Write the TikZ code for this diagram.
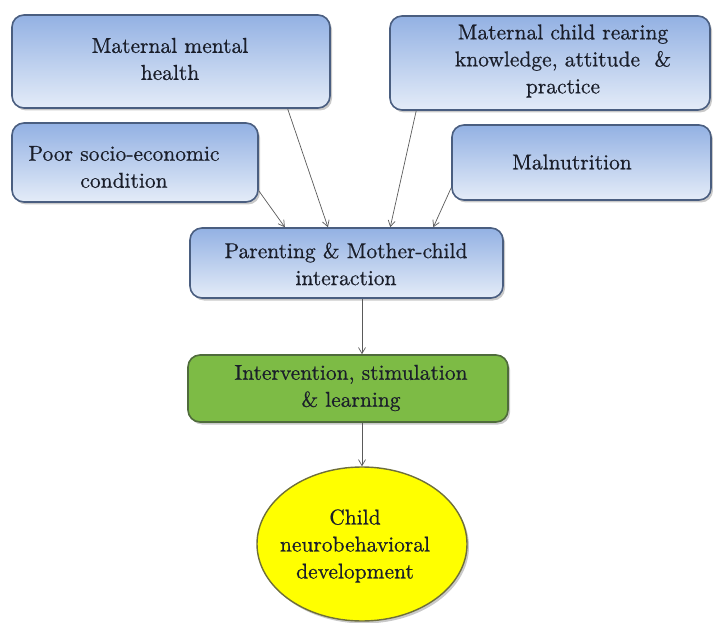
\documentclass[tikz,border=0pt]{standalone}
\usepackage{fontspec}
\newfontfamily\diagfont{lmroman10-regular.otf}[FakeBold=0.6]
\usetikzlibrary{shapes.geometric,arrows.meta,shadows,calc}

\definecolor{boxtop}{HTML}{93B1E3}
\definecolor{boxbot}{HTML}{E4ECF8}
\definecolor{boxline}{HTML}{4A5E80}
\definecolor{grnfill}{HTML}{7DBB45}
\definecolor{grnline}{HTML}{4F6B3C}
\definecolor{ellfill}{HTML}{FFFF00}
\definecolor{ellline}{HTML}{6E6E3A}
\definecolor{txt}{HTML}{1A1E2A}
\definecolor{arr}{HTML}{5A5A5A}

\begin{document}
\begin{tikzpicture}[x=1pt,y=-1pt,
  softshadow/.style={drop shadow={shadow xshift=2pt,shadow yshift=-2.5pt,opacity=0.3,fill=black!70}},
  bluebox/.style={draw=boxline, line width=1.6pt, rounded corners=12pt,
    top color=boxtop, bottom color=boxbot, softshadow},
  greenbox/.style={draw=grnline, line width=1.6pt, rounded corners=12pt,
    fill=grnfill, softshadow},
  outcome/.style={ellipse, draw=ellline, line width=1.4pt, fill=ellfill, softshadow},
  boxtext/.style={font=\diagfont\fontsize{21.5}{27}\selectfont, text=txt, align=center, inner sep=0pt},
  link/.style={draw=arr, line width=0.7pt, -{Straight Barb[length=6pt,width=7pt]}}
]
\useasboundingbox (0,0) rectangle (713,623);

% influencing factors
\node[bluebox, minimum width=318pt, minimum height=93pt] (b1) at (171,61.5) {};
\node[boxtext] (t1) at (170,59) {Maternal mental\\health};

\node[bluebox, minimum width=246pt, minimum height=79pt] (b2) at (135,162.5) {};
\node[boxtext] (t2) at (124,167) {Poor socio-economic\\condition};

\node[bluebox, minimum width=320pt, minimum height=94pt] (b3) at (550,63) {};
\node[boxtext] (t3) at (563,61) {Maternal child rearing\\knowledge, attitude~~\&\\practice};

\node[bluebox, minimum width=259pt, minimum height=75pt] (b4) at (581.5,162.5) {};
\node[boxtext] (t4) at (572,162) {Malnutrition};

% mediating steps
\node[bluebox, minimum width=313pt, minimum height=70pt] (par) at (346.5,263) {};
\node[boxtext] (t5) at (346,264) {Parenting \& Mother-child\\interaction};

\node[greenbox, minimum width=320pt, minimum height=67pt] (grn) at (348,388.5) {};
\node[boxtext] (t6) at (351,388) {Intervention, stimulation\\\& learning};

% outcome
\node[outcome, minimum width=210pt, minimum height=154pt, inner sep=0pt] (ell) at (362,544) {};
\node[boxtext] (t7) at (355,546) {Child\\neurobehavioral\\development};

% connectors
\draw[link] ([yshift=12pt]b2.south east) -- ($(par.north west)!0.304!(par.north east)$);
\draw[link] ($(b1.south west)!0.865!(b1.south east)$) -- ($(par.north west)!0.441!(par.north east)$);
\draw[link] ($(b3.south west)!0.084!(b3.south east)$) -- ($(par.north west)!0.639!(par.north east)$);
\draw[link] ([yshift=13pt]b4.south west) -- ($(par.north west)!0.776!(par.north east)$);
\draw[link] (par.south -| ell.north) -- (grn.north -| ell.north);
\draw[link] (grn.south -| ell.north) -- (ell.north);
\end{tikzpicture}
\end{document}
